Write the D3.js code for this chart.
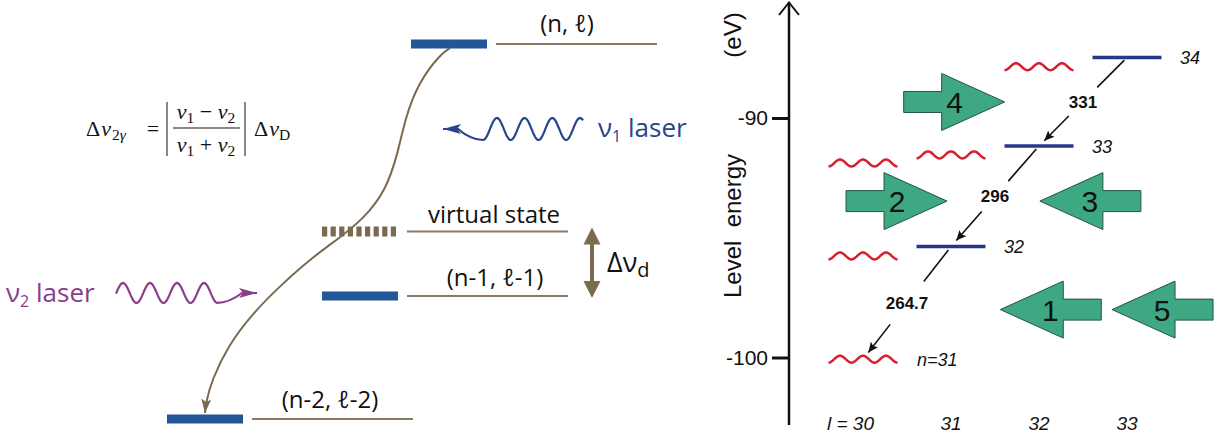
<!DOCTYPE html>
<html>
<head>
<meta charset="utf-8">
<script src="https://cdnjs.cloudflare.com/ajax/libs/d3/7.8.5/d3.min.js"></script>
<style>
  body { margin: 0; background: #fff; }
  svg { display: block; }
</style>
</head>
<body>
<svg width="1227" height="440"></svg>
<script>
// left schematic: level energies in arbitrary units (lowest level = 0)
var schemeLabels = ["(n-2, ℓ-2)", "(n-1, ℓ-1)", "virtual state", "(n, ℓ)"];
var schemeEnergy = [0, 3.28, 5.0, 10];
var schemeVirtual = [false, false, true, false];
// decay curve from (n, ℓ) down to (n-2, ℓ-2), in the same units
var curveX = [450, 440, 418, 405, 398, 386, 364, 338, 312, 282, 252, 228, 212, 206, 205];
var curveE = [9.89, 9.72, 8.95, 8.0, 7.1, 6.1, 5.35, 4.8, 4.3, 3.6, 2.8, 1.95, 1.05, 0.45, 0.16];

// right panel: level energies (eV)
var lTicks = [30, 31, 32, 33];
var yTicks = [-90, -100];
var barN = [32, 33, 34];
var barL = [31, 32, 33];
var barE = [-95.37, -91.17, -87.47];
var wavyN = [31, 32, 33, 33, 34];
var wavyL = [30, 30, 30, 31, 32];
var wavyE = [-100.07, -95.76, -91.88, -91.54, -87.86];
var levelLabels = ["32", "33", "34"];
var transLabels = ["331", "296", "264.7"];
var transUpper = [34, 33, 32];
// big green arrows
var arrowNums = ["4", "2", "3", "1", "5"];
var arrowDir = [1, 1, -1, -1, -1];
var arrowTipL = [31.61, 30.955, 32.01, 31.56, 32.83];
var arrowE = [-89.33, -93.47, -93.47, -98.0, -98.0];

var svg = d3.select("svg");
var brown = "#7a6a52", lineBrown = "#8a7b64", barBlue = "#1f5797";
var sans = "'Open Sans', sans-serif", helv = "'Liberation Sans', Arial, sans-serif";

var defs = svg.append("defs");
defs.append("marker").attr("id", "brownHead")
  .attr("viewBox", "0 0 14 10").attr("refX", 14).attr("refY", 5)
  .attr("markerWidth", 14).attr("markerHeight", 10).attr("markerUnits", "userSpaceOnUse")
  .attr("orient", "auto")
  .append("path").attr("d", "M0,0 L14,5 L0,10 L3,5 Z").attr("fill", brown);
defs.append("marker").attr("id", "blackHead")
  .attr("viewBox", "0 0 10 10").attr("refX", 10).attr("refY", 5)
  .attr("markerWidth", 10).attr("markerHeight", 10).attr("markerUnits", "userSpaceOnUse")
  .attr("orient", "auto")
  .append("path").attr("d", "M0,0.5 L10,5 L0,9.5 L2,5 Z").attr("fill", "#111");

// ================= left schematic =================
var ly = d3.scaleLinear().domain([0, 10]).range([419, 44]);
var barX = [167, 322, 322, 411], labelX = [330, 495, 494, 567], labelOff = [11, 10, 9, 12];

schemeLabels.forEach(function (lab, i) {
  var y = ly(schemeEnergy[i]);
  if (schemeVirtual[i]) {
    svg.append("line").attr("x1", barX[i]).attr("x2", barX[i] + 74).attr("y1", y).attr("y2", y)
      .attr("stroke", brown).attr("stroke-width", 10).attr("stroke-dasharray", "5.2,3.4");
  } else {
    svg.append("rect").attr("x", barX[i]).attr("y", y - 4.5).attr("width", 76).attr("height", 9)
      .attr("fill", barBlue);
  }
  svg.append("line").attr("x1", barX[i] + 85).attr("x2", barX[i] + 246).attr("y1", y).attr("y2", y)
    .attr("stroke", lineBrown).attr("stroke-width", 2);
  svg.append("text").attr("x", labelX[i]).attr("y", y - labelOff[i]).attr("text-anchor", "middle")
    .attr("font-family", sans).attr("font-size", 24).attr("fill", "#111").text(lab);
});

// decay curve
var curvePts = curveX.map(function (x, i) { return [x, ly(curveE[i])]; });
svg.append("path").attr("d", d3.line().curve(d3.curveBasis)(curvePts))
  .attr("fill", "none").attr("stroke", brown).attr("stroke-width", 2)
  .attr("marker-end", "url(#brownHead)");

// Δν_d double arrow between virtual state and (n-1, ℓ-1)
(function () {
  var x = 592, yT = ly(schemeEnergy[2]) - 4, yB = ly(schemeEnergy[1]) + 2;
  svg.append("line").attr("x1", x).attr("x2", x).attr("y1", yT + 12).attr("y2", yB - 12)
    .attr("stroke", brown).attr("stroke-width", 4);
  svg.append("path").attr("fill", brown)
    .attr("d", "M" + x + "," + yT + " L" + (x + 8.5) + "," + (yT + 17) + " L" + (x - 8.5) + "," + (yT + 17) + " Z");
  svg.append("path").attr("fill", brown)
    .attr("d", "M" + x + "," + yB + " L" + (x + 8.5) + "," + (yB - 17) + " L" + (x - 8.5) + "," + (yB - 17) + " Z");
  var t = svg.append("text").attr("x", 607).attr("y", 272).attr("font-family", sans).attr("font-size", 27).attr("fill", "#111");
  t.append("tspan").text("Δν");
  t.append("tspan").attr("font-size", 20).attr("dy", 5).text("d");
})();

// laser photons
function laser(x0, x1, crestX, cy, amp, period, tipX, color) {
  var pts = [], dir = tipX < x0 ? -1 : 1;
  for (var x = x1; dir < 0 ? x >= x0 : x <= x0; x += dir < 0 ? -1 : 1) {
    pts.push([x, cy - amp * Math.cos(2 * Math.PI * (x - crestX) / period)]);
  }
  var last = pts[pts.length - 1];
  var baseX = tipX - dir * 15;
  var d = d3.line()(pts) + " Q" + (last[0] + dir * 12) + "," + last[1] + " " + baseX + "," + cy + " L" + tipX + "," + cy;
  svg.append("path").attr("d", d).attr("fill", "none").attr("stroke", color).attr("stroke-width", 2.2);
  svg.append("path").attr("fill", color)
    .attr("d", "M" + tipX + "," + cy + " L" + (baseX - dir * 3) + "," + (cy - 5) + " L" + (baseX + dir * 1) + "," + cy + " L" + (baseX - dir * 3) + "," + (cy + 5) + " Z");
}
laser(483, 583, 580, 129, 11, 27.7, 443, "#27458c");
laser(217.5, 116, 123, 293, 10, 27, 257, "#8b3d8b");

function laserLabel(x, y, sub, color) {
  var t = svg.append("text").attr("x", x).attr("y", y).attr("font-family", sans).attr("font-size", 26).attr("fill", color);
  t.append("tspan").text("ν");
  t.append("tspan").attr("font-size", 16).attr("dy", 5).text(sub);
  t.append("tspan").attr("dy", -5).text(" laser");
}
laserLabel(598, 137, "1", "#27458c");
laserLabel(6, 302, "2", "#8b3d8b");

// formula
(function () {
  var serif = "'Liberation Serif', 'Times New Roman', serif";
  var sub = 15.5;
  var g = svg.append("g").attr("font-family", serif).attr("font-size", 22).attr("fill", "#111");
  var t = g.append("text").attr("x", 86).attr("y", 136);
  t.append("tspan").text("Δ");
  t.append("tspan").attr("font-style", "italic").attr("dx", 1).text("ν");
  t.append("tspan").attr("font-size", sub).attr("dy", 4).attr("dx", 1).text("2");
  t.append("tspan").attr("font-size", sub).attr("font-style", "italic").text("γ");
  g.append("text").attr("x", 153).attr("y", 136).attr("text-anchor", "middle").text("=");
  g.append("line").attr("x1", 167).attr("x2", 167).attr("y1", 102).attr("y2", 156).attr("stroke", "#111").attr("stroke-width", 1);
  g.append("line").attr("x1", 245).attr("x2", 245).attr("y1", 102).attr("y2", 156).attr("stroke", "#111").attr("stroke-width", 1);
  g.append("line").attr("x1", 173).attr("x2", 240).attr("y1", 128).attr("y2", 128).attr("stroke", "#111").attr("stroke-width", 1);
  function frac(y, op) {
    var f = g.append("text").attr("x", 206).attr("y", y).attr("text-anchor", "middle");
    f.append("tspan").attr("font-style", "italic").text("ν");
    f.append("tspan").attr("font-size", sub).attr("dy", 4).text("1");
    f.append("tspan").attr("dy", -4).text(" " + op + " ");
    f.append("tspan").attr("font-style", "italic").text("ν");
    f.append("tspan").attr("font-size", sub).attr("dy", 4).text("2");
  }
  frac(119, "−");
  frac(152, "+");
  var d = g.append("text").attr("x", 254).attr("y", 136);
  d.append("tspan").text("Δ");
  d.append("tspan").attr("font-style", "italic").attr("dx", 1).text("ν");
  d.append("tspan").attr("font-size", sub).attr("dy", 4).text("D");
})();

// ================= right panel =================
var x = d3.scaleLinear().domain([30, 33]).range([863, 1127]);
var y = d3.scaleLinear().domain([-100, -90]).range([357.5, 118]);
var axisX = 789;

var axisG = svg.append("g").attr("transform", "translate(" + axisX + ",0)")
  .call(d3.axisLeft(y).tickValues(yTicks).tickSize(17).tickPadding(4).tickFormat(function (d) { return String(d); }));
axisG.select(".domain").remove();
axisG.selectAll(".tick line").attr("stroke", "#111").attr("stroke-width", 3);
axisG.selectAll(".tick text").attr("font-family", helv).attr("font-size", 21).attr("fill", "#111");

svg.append("line").attr("x1", axisX).attr("x2", axisX).attr("y1", 2).attr("y2", 425)
  .attr("stroke", "#111").attr("stroke-width", 2.5);
svg.append("path").attr("d", "M" + (axisX - 10) + ",15 L" + axisX + ",2.5 L" + (axisX + 10) + ",15")
  .attr("fill", "none").attr("stroke", "#111").attr("stroke-width", 2);

svg.append("text").attr("transform", "translate(741,226) rotate(-90)").attr("text-anchor", "middle")
  .attr("font-family", helv).attr("font-size", 24).attr("fill", "#111")
  .attr("xml:space", "preserve").style("white-space", "pre").text("Level  energy");
svg.append("text").attr("transform", "translate(741,35) rotate(-90)").attr("text-anchor", "middle")
  .attr("font-family", helv).attr("font-size", 24).attr("fill", "#111").text("(eV)");

// bottom ℓ labels
svg.selectAll("text.lab").data(lTicks).enter().append("text").attr("class", "lab")
  .attr("x", function (d, i) { return i === 0 ? x(d) + 11 : x(d); })
  .attr("y", 430)
  .attr("text-anchor", function (d, i) { return i === 0 ? "end" : "middle"; })
  .attr("font-family", helv).attr("font-size", 19).attr("font-style", "italic").attr("fill", "#111")
  .text(function (d, i) { return i === 0 ? "l = " + d : String(d); });

// green block arrows
var arrowG = svg.selectAll("g.big").data(arrowNums).enter().append("g").attr("class", "big")
  .attr("transform", function (d, i) { return "translate(" + x(arrowTipL[i]) + "," + y(arrowE[i]) + ")"; });
arrowG.append("path")
  .attr("d", function (d, i) {
    var s = arrowDir[i];
    return "M0,0 L" + (-s * 63) + ",-28.5 L" + (-s * 63) + ",-10.5 L" + (-s * 101) + ",-10.5 L" +
      (-s * 101) + ",10.5 L" + (-s * 63) + ",10.5 L" + (-s * 63) + ",28.5 Z";
  })
  .attr("fill", "#3ea882").attr("stroke", "#24553f").attr("stroke-width", 1);
arrowG.append("text").attr("x", function (d, i) { return -arrowDir[i] * 50; }).attr("y", 11)
  .attr("text-anchor", "middle").attr("font-family", helv).attr("font-size", 30).attr("fill", "#111")
  .text(function (d) { return d; });

// red wavy (lower-ℓ) levels
svg.selectAll("path.wavy").data(wavyE).enter().append("path").attr("class", "wavy")
  .attr("d", function (E, i) {
    var cx = x(wavyL[i]), cy = y(E), pts = [];
    for (var k = 0; k <= 69; k++) pts.push([cx - 34.5 + k, cy + 3.5 * Math.cos(2 * Math.PI * k / 23)]);
    return d3.line()(pts);
  })
  .attr("fill", "none").attr("stroke", "#d7202e").attr("stroke-width", 2.5);

// blue (circular) levels
svg.selectAll("line.bar").data(barE).enter().append("line").attr("class", "bar")
  .attr("x1", function (E, i) { return x(barL[i]) - 34.5; })
  .attr("x2", function (E, i) { return x(barL[i]) + 34.5; })
  .attr("y1", function (E) { return y(E); }).attr("y2", function (E) { return y(E); })
  .attr("stroke", "#27378a").attr("stroke-width", 3.5);

// level labels
svg.selectAll("text.nlab").data(levelLabels).enter().append("text").attr("class", "nlab")
  .attr("x", function (d, i) { return x(barL[i]) + 53; }).attr("y", function (d, i) { return y(barE[i]) + 6.5; })
  .attr("font-family", helv).attr("font-size", 18).attr("font-style", "italic").attr("fill", "#111")
  .text(function (d) { return d; });
svg.append("text").attr("x", x(wavyL[0]) + 54).attr("y", y(wavyE[0]) + 6.5)
  .attr("font-family", helv).attr("font-size", 18).attr("font-style", "italic").attr("fill", "#111")
  .text("n=" + wavyN[0]);

// transitions n -> n-1 (ℓ -> ℓ-1)
function levelPos(n, l) {
  for (var i = 0; i < barN.length; i++) if (barN[i] === n && barL[i] === l) return [x(l), y(barE[i])];
  for (var j = 0; j < wavyN.length; j++) if (wavyN[j] === n && wavyL[j] === l) return [x(l), y(wavyE[j])];
}
transLabels.forEach(function (lab, i) {
  var n = transUpper[i], l = n - 1;
  var p1 = levelPos(n, l), p2 = levelPos(n - 1, l - 1);
  var pt = function (t) { return [p1[0] + (p2[0] - p1[0]) * t, p1[1] + (p2[1] - p1[1]) * t]; };
  var mid = pt(0.5);
  var txt = svg.append("text").attr("x", mid[0]).attr("y", mid[1] + 6).attr("text-anchor", "middle")
    .attr("font-family", helv).attr("font-size", 17).attr("font-weight", "bold").attr("fill", "#111").text(lab);
  var len = Math.hypot(p2[0] - p1[0], p2[1] - p1[1]);
  var half = (txt.node().getComputedTextLength() + 12) / 2 / len;
  var a = pt(0.03), b = pt(0.5 - half), c = pt(0.5 + half), e = pt(0.94);
  svg.append("line").attr("x1", a[0]).attr("y1", a[1]).attr("x2", b[0]).attr("y2", b[1])
    .attr("stroke", "#111").attr("stroke-width", 1.6);
  svg.append("line").attr("x1", c[0]).attr("y1", c[1]).attr("x2", e[0]).attr("y2", e[1])
    .attr("stroke", "#111").attr("stroke-width", 1.6).attr("marker-end", "url(#blackHead)");
});
</script>
</body>
</html>
